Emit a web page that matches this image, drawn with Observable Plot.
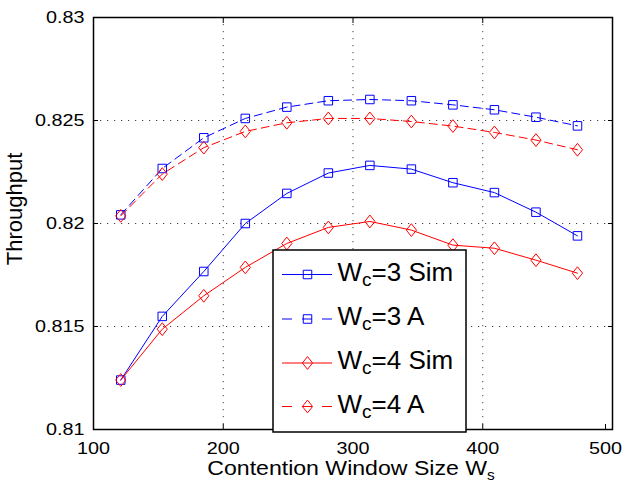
<!DOCTYPE html>
<html>
<head>
<meta charset="utf-8">
<script src="https://cdn.jsdelivr.net/npm/d3@7"></script>
<script src="https://cdn.jsdelivr.net/npm/@observablehq/plot@0.6"></script>
<style>
  html, body { margin: 0; padding: 0; background: #fff; }
  #chart { position: relative; width: 626px; height: 490px; }
  svg { font-family: "Liberation Sans", Arial, Helvetica, sans-serif; }
</style>
</head>
<body>
<div id="chart"></div>
<script>
// Contention window sizes W_s (x) and throughput per configuration (y)
const windowSizes = [121, 153, 185, 217, 249, 281, 313, 345, 377, 409, 441, 473];
const wc3Sim = [0.81240, 0.81549, 0.81767, 0.82000, 0.82146, 0.82245, 0.82282, 0.82264, 0.82198, 0.82150, 0.82055, 0.81940];
const wc3A   = [0.82042, 0.82267, 0.82416, 0.82510, 0.82565, 0.82596, 0.82602, 0.82596, 0.82576, 0.82552, 0.82516, 0.82474];
const wc4Sim = [0.81240, 0.81487, 0.81649, 0.81787, 0.81903, 0.81981, 0.82010, 0.81968, 0.81895, 0.81880, 0.81822, 0.81759];
const wc4A   = [0.82037, 0.82240, 0.82368, 0.82447, 0.82489, 0.82510, 0.82510, 0.82495, 0.82473, 0.82442, 0.82405, 0.82358];

const seriesNames = ["W_c=3 Sim", "W_c=3 A", "W_c=4 Sim", "W_c=4 A"];
const xTicks = [100, 200, 300, 400, 500];
const yTicks = [0.81, 0.815, 0.82, 0.825, 0.83];

// MATLAB-style open markers
const squareSymbol = {
  draw(ctx, size) { const s = Math.sqrt(size) / 2; ctx.rect(-s, -s, 2 * s, 2 * s); }
};
const diamondSymbol = {
  draw(ctx, size) {
    const h = Math.sqrt(size) * 0.75, w = h * 0.8;
    ctx.moveTo(0, -h); ctx.lineTo(w, 0); ctx.lineTo(0, h); ctx.lineTo(-w, 0); ctx.closePath();
  }
};

const seriesStyle = [
  {values: wc3Sim, color: "#0000ff", dash: null,  symbol: squareSymbol},
  {values: wc3A,   color: "#0000ff", dash: "8,5", symbol: squareSymbol},
  {values: wc4Sim, color: "#ff0000", dash: null,  symbol: diamondSymbol},
  {values: wc4A,   color: "#ff0000", dash: "8,5", symbol: diamondSymbol}
];
const series = seriesNames.map((name, i) => ({
  name, ...seriesStyle[i],
  rows: windowSizes.map((w, j) => ({ws: w, throughput: seriesStyle[i].values[j]}))
}));

const markerR = 4.8;
const fmt = d3.format("~g");

const marks = [
  Plot.gridX([200, 300, 400], {stroke: "#000", strokeOpacity: 0.75, strokeDasharray: "1.2,5.8", strokeWidth: 1}),
  Plot.gridY([0.815, 0.82, 0.825], {stroke: "#000", strokeOpacity: 0.75, strokeDasharray: "1.2,5.8", strokeWidth: 1}),
  Plot.axisX(xTicks.slice(0, -1), {anchor: "bottom", tickSize: -5, tickPadding: 17.5, fontSize: 16.5, label: null}),
  Plot.axisX(xTicks.slice(-1), {anchor: "bottom", tickSize: -5, tickPadding: 17.5, fontSize: 16.5, label: null, dx: -7}),
  Plot.axisX(xTicks, {anchor: "top", tickSize: -5, tickFormat: () => "", label: null}),
  Plot.axisY(yTicks, {anchor: "left", tickSize: -5, tickPadding: 14, fontSize: 16.5, tickFormat: fmt, label: null}),
  Plot.axisY(yTicks, {anchor: "right", tickSize: -5, tickFormat: () => "", label: null})
];
for (const s of series) {
  marks.push(Plot.line(s.rows, {x: "ws", y: "throughput", stroke: s.color, strokeWidth: 1, strokeDasharray: s.dash}));
  marks.push(Plot.dot(s.rows, {x: "ws", y: "throughput", stroke: s.color, fill: "none", strokeWidth: 1, r: markerR, symbol: s.symbol}));
}
marks.push(Plot.frame({stroke: "#000", strokeWidth: 1.5}));

const chart = Plot.plot({
  width: 626,
  height: 490,
  marginLeft: 93,
  marginRight: 14,
  marginTop: 17,
  marginBottom: 61,
  style: {background: "#fff", fontFamily: "'Liberation Sans', Arial, Helvetica, sans-serif", color: "#000"},
  x: {domain: [100, 500]},
  y: {domain: [0.81, 0.83]},
  marks
});
document.getElementById("chart").appendChild(chart);

const svg = d3.select(chart);

// Widen tick labels horizontally, keeping each label's anchor point fixed
svg.selectAll('g[aria-label$="tick label"] text').each(function () {
  const t = d3.select(this);
  const tr = t.attr("transform");
  if (tr) {
    t.attr("transform", tr + " scale(1.2,1)");
  } else {
    const x = +t.attr("x") || 0, y = t.attr("y");
    const yn = y && !String(y).endsWith("em") ? +y : 0;
    t.attr("transform", `translate(${x},${yn}) scale(1.2,1)`).attr("x", null);
    if (yn) t.attr("y", null);
  }
});

// Axis titles
const fontFamily = "'Liberation Sans', Arial, Helvetica, sans-serif";
const xTitle = svg.append("text")
  .attr("transform", "translate(351,475) scale(1.1,1)")
  .attr("text-anchor", "middle")
  .attr("font-size", 21).attr("font-family", fontFamily).attr("fill", "#000");
xTitle.append("tspan").text("Contention Window Size W");
xTitle.append("tspan").attr("font-size", 14).attr("dy", 5).text("s");

svg.append("text")
  .attr("transform", "translate(22,209) rotate(-90)")
  .attr("text-anchor", "middle")
  .attr("font-size", 22).attr("font-family", fontFamily).attr("fill", "#000")
  .text("Throughput");

// Legend box inside the axes
const legend = svg.append("g").attr("aria-label", "legend");
legend.append("rect")
  .attr("x", 273).attr("y", 250).attr("width", 193).attr("height", 182)
  .attr("fill", "#fff").attr("stroke", "#000").attr("stroke-width", 1.5);

const rowY = [274.5, 319, 363, 406.5];
series.forEach((s, i) => {
  const y = rowY[i];
  const g = legend.append("g");
  g.append("line")
    .attr("x1", 282).attr("x2", 332).attr("y1", y).attr("y2", y)
    .attr("stroke", s.color).attr("stroke-width", 1)
    .attr("stroke-dasharray", s.dash ? "10,10,10,10,10" : null);
  g.append("path")
    .attr("transform", `translate(307.5,${y})`)
    .attr("d", d3.symbol(s.symbol, markerR * markerR * Math.PI)())
    .attr("fill", "none").attr("stroke", s.color).attr("stroke-width", 1);
  const [base, rest] = s.name.split("_");
  const label = g.append("text")
    .attr("x", 337.5).attr("y", y + 6)
    .attr("text-anchor", "start")
    .attr("font-size", 26).attr("font-family", fontFamily).attr("fill", "#000");
  label.append("tspan").text(base);
  label.append("tspan").attr("font-size", 19).attr("dy", 5).text(rest.slice(0, 1));
  label.append("tspan").attr("dy", -5).text(rest.slice(1));
});
</script>
</body>
</html>
